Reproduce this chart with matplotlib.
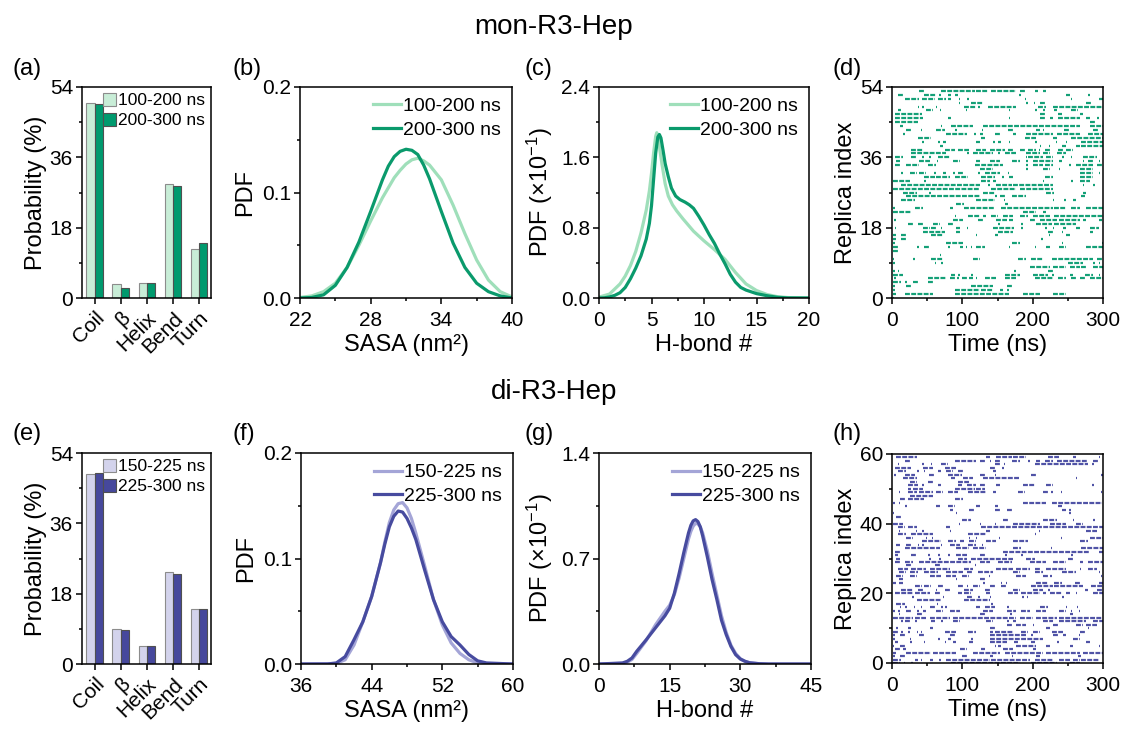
import numpy as np
import matplotlib
matplotlib.use('Agg')
import matplotlib.pyplot as plt
from matplotlib.ticker import MultipleLocator

plt.rcParams['font.family'] = ['Liberation Sans', 'DejaVu Sans']
plt.rcParams['mathtext.fontset'] = 'custom'
plt.rcParams['mathtext.rm'] = 'Liberation Sans'
plt.rcParams['mathtext.it'] = 'Liberation Sans:italic'
plt.rcParams['axes.linewidth'] = 1.1

# secondary structure content (%)
ss_labels = ['Coil', 'β', 'Helix', 'Bend', 'Turn']
mon_ss_early = [49.9, 3.6, 3.9, 29.3, 12.5]
mon_ss_late = [49.7, 2.6, 3.9, 28.7, 14.0]
di_ss_early = [48.6, 9.0, 4.6, 23.5, 14.2]
di_ss_late = [49.0, 8.7, 4.6, 23.0, 14.2]

# SASA distributions
mon_sasa_early_x = [22, 23, 24, 25, 26, 27, 28, 29, 30, 30.5, 31, 31.5, 32, 32.5, 33, 34, 35, 36, 37, 38, 39, 40]
mon_sasa_early_y = [0.0005, 0.002, 0.006, 0.014, 0.029, 0.050, 0.073, 0.095, 0.114, 0.121, 0.127, 0.131, 0.1325, 0.130, 0.126, 0.112, 0.088, 0.061, 0.036, 0.017, 0.006, 0.001]
mon_sasa_late_x = [22, 23, 24, 25, 26, 27, 28, 29, 29.5, 30, 30.5, 31, 31.5, 32, 32.5, 33, 34, 35, 36, 37, 38, 39, 40]
mon_sasa_late_y = [0.0, 0.0005, 0.003, 0.012, 0.029, 0.053, 0.082, 0.112, 0.125, 0.134, 0.139, 0.141, 0.140, 0.136, 0.126, 0.113, 0.082, 0.052, 0.029, 0.014, 0.006, 0.002, 0.0]

di_sasa_early_x = [36, 40, 41, 42, 43, 44, 45, 45.5, 46, 46.5, 47, 47.5, 48, 48.5, 49, 50, 51, 52, 53, 54, 55, 56, 57, 60]
di_sasa_early_y = [0.0, 0.0005, 0.004, 0.018, 0.040, 0.064, 0.096, 0.116, 0.134, 0.146, 0.152, 0.153, 0.148, 0.138, 0.124, 0.093, 0.061, 0.037, 0.020, 0.010, 0.004, 0.001, 0.0, 0.0]
di_sasa_late_x = [36, 39, 40, 41, 42, 43, 44, 45, 45.5, 46, 46.5, 47, 47.5, 48, 48.5, 49, 50, 51, 52, 53, 54, 55, 56, 57, 60]
di_sasa_late_y = [0.0, 0.0, 0.001, 0.007, 0.023, 0.040, 0.064, 0.096, 0.114, 0.130, 0.140, 0.145, 0.144, 0.138, 0.129, 0.118, 0.089, 0.061, 0.040, 0.026, 0.018, 0.009, 0.003, 0.001, 0.0]

# H-bond distributions (x10^-1)
mon_hb_early_x = [0, 1, 2, 2.5, 3, 3.5, 4, 4.5, 4.8, 5.0, 5.2, 5.4, 5.5, 5.65, 5.8, 6.0, 6.3, 6.6, 7.0, 7.4, 8.0, 8.5, 9, 10, 11, 12, 13, 14, 15, 16, 17, 18, 20]
mon_hb_early_y = [0.01, 0.045, 0.16, 0.25, 0.37, 0.53, 0.74, 1.0, 1.22, 1.42, 1.65, 1.84, 1.88, 1.82, 1.68, 1.52, 1.30, 1.16, 1.06, 0.99, 0.90, 0.83, 0.76, 0.65, 0.55, 0.44, 0.29, 0.16, 0.085, 0.04, 0.015, 0.005, 0.0]
mon_hb_late_x = [0, 0.5, 1, 1.5, 2, 2.5, 3, 3.5, 4, 4.5, 4.8, 5.0, 5.2, 5.4, 5.6, 5.75, 5.9, 6.1, 6.3, 6.6, 6.9, 7.3, 7.7, 8.2, 8.6, 9.0, 9.5, 10, 10.5, 11, 11.5, 12, 12.5, 13, 13.5, 14, 15, 16, 17, 18, 20]
mon_hb_late_y = [0.0, 0.002, 0.012, 0.03, 0.06, 0.12, 0.22, 0.34, 0.48, 0.67, 0.85, 1.05, 1.35, 1.65, 1.83, 1.86, 1.82, 1.68, 1.53, 1.38, 1.25, 1.16, 1.12, 1.09, 1.06, 1.02, 0.93, 0.83, 0.72, 0.62, 0.50, 0.39, 0.27, 0.18, 0.12, 0.09, 0.05, 0.026, 0.008, 0.001, 0.0]

di_hb_early_x = [0, 5, 6, 7, 8, 10, 12, 14, 15, 16, 17, 18, 19, 19.5, 20, 20.5, 21, 21.5, 22, 23, 24, 25, 26, 27, 28, 29, 30, 31, 32, 34, 36, 45]
di_hb_early_y = [0.0, 0.004, 0.012, 0.03, 0.07, 0.155, 0.26, 0.35, 0.39, 0.46, 0.57, 0.70, 0.83, 0.88, 0.915, 0.933, 0.93, 0.91, 0.87, 0.75, 0.60, 0.46, 0.32, 0.21, 0.125, 0.07, 0.035, 0.017, 0.008, 0.002, 0.0, 0.0]
di_hb_late_x = [0, 5, 6, 7, 8, 10, 12, 14, 15, 16, 17, 18, 19, 19.5, 20, 20.5, 21, 21.5, 22, 23, 24, 25, 26, 27, 28, 29, 30, 31, 32, 34, 36, 45]
di_hb_late_y = [0.0, 0.007, 0.018, 0.04, 0.084, 0.16, 0.24, 0.32, 0.37, 0.47, 0.60, 0.74, 0.87, 0.92, 0.95, 0.958, 0.945, 0.91, 0.85, 0.71, 0.56, 0.43, 0.29, 0.195, 0.117, 0.062, 0.033, 0.018, 0.008, 0.002, 0.0, 0.0]

# replica residence segments (start, end) in ns, listed from the top row down
mon_replica = [
    [(39, 46), (70, 118), (120, 136), (141, 177), (182, 191), (203, 208), (215, 219)],
    [(9, 16), (46, 63), (67, 69), (80, 84), (89, 94), (181, 183), (248, 253), (279, 281)],
    [(18, 39), (42, 61), (65, 77), (80, 84), (95, 97), (107, 109), (189, 191), (254, 256), (295, 300)],
    [(95, 97), (113, 129), (191, 193), (202, 204), (210, 219), (276, 283)],
    [(37, 39), (43, 45), (62, 64), (103, 120), (122, 125), (136, 177), (208, 219), (229, 300)],
    [(9, 13), (49, 58), (68, 70), (105, 107), (166, 168), (204, 206), (215, 217), (231, 234), (255, 264)],
    [(4, 42), (210, 219), (236, 241), (267, 272)],
    [(4, 44), (80, 84), (166, 168), (210, 219), (224, 229), (236, 267), (276, 281), (292, 294)],
    [(4, 37), (281, 288)],
    [(11, 16), (69, 71), (84, 115), (129, 267), (281, 300)],
    [(20, 27), (41, 43), (63, 75), (90, 92), (128, 130), (165, 174), (205, 210), (214, 216), (245, 253), (286, 295)],
    [(16, 18), (77, 106), (117, 119), (125, 129), (146, 153), (172, 177), (191, 229), (234, 267), (279, 300)],
    [(37, 56), (127, 132), (189, 205), (229, 234), (255, 300)],
    [(43, 45), (65, 68), (73, 77), (120, 125), (144, 146), (151, 155), (166, 168), (204, 206), (233, 235), (247, 249), (269, 300)],
    [(68, 73), (210, 212), (223, 225), (241, 248), (262, 267), (269, 300)],
    [(27, 44), (75, 89), (94, 110), (120, 134), (139, 160), (165, 174), (182, 191), (193, 205), (209, 211), (217, 224), (236, 243), (248, 257)],
    [(27, 77), (106, 110), (115, 144), (151, 153), (160, 177), (191, 210), (215, 224), (234, 248)],
    [(4, 16), (27, 35), (43, 45), (53, 55), (65, 82), (190, 192), (193, 215), (219, 229), (241, 245), (254, 256), (272, 291)],
    [(6, 11), (39, 54), (64, 66), (87, 96), (120, 125), (139, 153), (170, 182), (191, 193), (200, 229), (238, 241), (271, 273), (279, 286), (294, 296)],
    [(4, 13), (20, 39), (51, 63), (118, 158), (191, 193), (200, 215), (217, 229), (252, 254), (262, 286), (291, 300)],
    [(125, 144), (191, 193), (215, 224), (237, 239), (267, 286)],
    [(13, 16), (25, 35), (39, 49), (60, 62), (73, 77), (87, 89), (94, 103), (122, 125), (132, 153), (165, 167), (267, 286), (294, 296)],
    [(46, 61), (63, 82), (89, 108), (127, 146), (157, 159), (167, 172), (217, 229), (267, 286)],
    [(1, 25), (46, 49), (127, 139), (144, 148), (214, 216), (255, 257), (267, 281)],
    [(13, 125), (136, 139), (148, 170), (172, 229), (271, 273), (286, 288)],
    [(1, 125), (141, 177), (182, 229)],
    [(16, 35), (53, 55), (129, 146), (219, 231), (272, 276)],
    [(20, 125), (147, 149), (153, 160), (170, 191), (269, 274)],
    [(13, 32), (120, 146), (159, 161), (229, 231), (245, 248), (257, 262)],
    [(91, 103), (160, 165)],
    [(1, 4), (32, 44), (82, 87), (103, 146), (155, 229), (231, 248), (255, 267), (276, 300)],
    [(1, 27), (186, 205), (215, 219)],
    [(89, 91), (108, 125), (129, 134), (141, 151), (158, 172), (182, 193), (200, 224), (231, 300)],
    [(3, 5), (87, 101), (122, 129), (148, 163), (167, 172), (196, 205), (210, 234), (238, 267), (272, 276), (295, 298)],
    [(23, 30), (37, 46), (58, 68), (80, 87), (151, 153), (184, 186), (205, 227), (231, 262)],
    [(4, 6), (44, 54), (56, 63), (69, 71), (91, 96), (106, 108), (144, 174), (184, 186), (218, 220), (229, 231), (243, 248), (262, 267), (281, 295)],
    [(44, 75), (91, 96), (151, 172), (222, 229), (241, 243), (281, 286)],
    [(1, 6), (13, 20), (56, 73), (119, 121), (146, 151), (223, 225), (248, 253)],
    [(1, 6), (13, 20), (212, 215)],
    [(1, 4), (77, 101), (170, 182), (241, 243), (298, 300)],
    [(1, 9), (35, 39), (46, 54), (80, 82), (96, 101), (105, 107), (112, 114), (120, 132), (166, 168), (203, 205), (219, 224), (238, 248), (276, 300)],
    [(1, 9)],
    [(68, 70)],
    [(1, 3), (30, 32), (56, 73), (115, 125), (179, 191), (198, 215), (227, 286), (291, 300)],
    [(1, 4), (61, 63), (70, 73), (250, 272), (286, 288), (294, 296)],
    [(196, 224), (229, 248), (253, 267), (269, 276), (286, 300)],
    [(1, 4), (8, 10), (174, 177), (222, 231)],
    [(1, 16), (84, 89), (94, 96), (113, 115), (160, 182), (200, 222), (227, 231), (253, 257), (274, 286), (294, 296)],
    [(3, 5), (51, 77), (82, 89), (93, 95), (99, 106), (110, 115), (119, 121), (132, 148), (160, 177), (203, 229), (236, 248), (255, 262), (267, 276), (281, 300)],
    [(1, 13), (19, 21), (30, 39), (51, 58)],
    [(1, 4), (20, 27), (113, 144), (163, 172)],
    [(1, 4), (89, 125), (127, 144), (153, 158), (163, 167)],
    [(1, 6), (18, 58), (89, 167), (186, 210), (229, 248)],
    [(1, 3)],
]

di_replica = [
    [(6, 35), (134, 139), (148, 170), (172, 191), (222, 238), (257, 262), (294, 296)],
    [(18, 27), (89, 120), (125, 132), (139, 141), (146, 153), (170, 182), (193, 196), (205, 210), (217, 229), (234, 279), (286, 295)],
    [(8, 10), (42, 46), (55, 57), (70, 80), (146, 153), (159, 161), (203, 279), (285, 287)],
    [(4, 27), (44, 58), (75, 91), (139, 146), (157, 159)],
    [(8, 20), (35, 39), (45, 47), (65, 70), (77, 87), (94, 101), (144, 148)],
    [(3, 5), (18, 32), (53, 61), (80, 99), (125, 134), (146, 148), (198, 205), (297, 300)],
    [(16, 35), (84, 89), (101, 115), (129, 182), (261, 263)],
    [(25, 35), (51, 58), (94, 110)],
    [(23, 37), (43, 45), (65, 70), (94, 99), (106, 120), (125, 134), (148, 153), (186, 203), (219, 229), (285, 287)],
    [(23, 27), (30, 44), (89, 118), (120, 132)],
    [(10, 12), (23, 35), (39, 58), (63, 73), (80, 94), (108, 134), (144, 148), (179, 189), (214, 222), (226, 229), (240, 242), (297, 299)],
    [(25, 58)],
    [(11, 18), (23, 46), (89, 101)],
    [(1, 4), (10, 12), (186, 219), (227, 298)],
    [(19, 21), (63, 68), (80, 89), (120, 125), (146, 151), (236, 241)],
    [(82, 87), (110, 118), (146, 155), (163, 172), (241, 248), (252, 254)],
    [(1, 3), (91, 93), (252, 254)],
    [(6, 13)],
    [(99, 113), (158, 167), (214, 234), (257, 259), (286, 288)],
    [(1, 16), (95, 97), (125, 127), (146, 148), (172, 210), (224, 248), (262, 272)],
    [(8, 18), (23, 35), (77, 82), (127, 300)],
    [(10, 12), (34, 36), (43, 45), (82, 84), (134, 139), (209, 211), (276, 291)],
    [(8, 20), (27, 58), (108, 134), (203, 205)],
    [(20, 30), (48, 50), (57, 59), (109, 111), (119, 121), (152, 154), (240, 242), (281, 300)],
    [(42, 70), (80, 91), (96, 103), (110, 120), (134, 148), (172, 193), (267, 279)],
    [(6, 11), (20, 27), (37, 39), (43, 45), (69, 71), (82, 96), (108, 120), (128, 130)],
    [(18, 68), (91, 110), (115, 134), (172, 184), (226, 228), (269, 300)],
    [(4, 11), (158, 281), (295, 300)],
    [(4, 9), (27, 35), (51, 54), (65, 68), (80, 82), (91, 106), (125, 134), (160, 163), (184, 186), (255, 257)],
    [(6, 11), (53, 55), (67, 69), (94, 106), (113, 172), (191, 203), (250, 257)],
    [(4, 11), (18, 30), (39, 113), (125, 139), (151, 170), (196, 219), (229, 248), (267, 272), (279, 300)],
    [(20, 27), (61, 68), (118, 120)],
    [(8, 23), (27, 49), (54, 82), (103, 115), (148, 172), (177, 196), (203, 210), (219, 248), (267, 269), (279, 291)],
    [(10, 20), (25, 37), (46, 65), (77, 101), (106, 115), (122, 144), (172, 182), (203, 215), (241, 262), (294, 296)],
    [(6, 16), (25, 35), (54, 70), (77, 91), (99, 110), (138, 140), (177, 191), (214, 222), (224, 227), (297, 299)],
    [(10, 16), (91, 93), (125, 132)],
    [(1, 6), (10, 16), (129, 132), (155, 157), (162, 164), (205, 222), (231, 241), (260, 267), (294, 300)],
    [(32, 42), (46, 56), (65, 73), (94, 101), (106, 108), (115, 125), (139, 148), (155, 163), (198, 229), (231, 272), (283, 300)],
    [(13, 30), (37, 46), (62, 64), (75, 82), (103, 115), (132, 139), (172, 182), (200, 215), (222, 224), (274, 279), (291, 300)],
    [(4, 30), (32, 54), (61, 68), (94, 99), (103, 113), (134, 139), (165, 179), (184, 210), (215, 219), (224, 241), (248, 253), (261, 263), (286, 300)],
    [(29, 31), (72, 74), (106, 115), (122, 125), (139, 141), (185, 187), (192, 194), (242, 244)],
    [(35, 70), (103, 139)],
    [(6, 18), (64, 66), (141, 144)],
    [(11, 13), (19, 21), (31, 33), (41, 43), (54, 63), (70, 73), (76, 78), (120, 125), (132, 146), (164, 166), (210, 222), (247, 249), (263, 265)],
    [(1, 4), (8, 11), (20, 27), (35, 39), (44, 49), (63, 73), (82, 96), (129, 144), (163, 177), (184, 196), (205, 219), (238, 248), (254, 256), (266, 268)],
    [(10, 12), (35, 42), (125, 134), (168, 170), (253, 257)],
    [(1, 30), (32, 49), (54, 82), (87, 177), (182, 200), (205, 234), (238, 298)],
    [(13, 16), (18, 25), (32, 35), (56, 61), (70, 73), (87, 96), (134, 144), (163, 167), (172, 177), (215, 229), (238, 276), (286, 300)],
    [(163, 170), (177, 191), (200, 202), (229, 238), (262, 272), (276, 291)],
    [(6, 8), (23, 27), (54, 58), (139, 146), (219, 224), (278, 280)],
    [(1, 9), (13, 16), (23, 25), (35, 37), (41, 43), (75, 91), (108, 120), (139, 144), (146, 172), (184, 193), (200, 210), (227, 243), (267, 276)],
    [(1, 4), (11, 20), (39, 46), (82, 89), (139, 191), (198, 200), (229, 236), (243, 248), (266, 268)],
    [(1, 4), (25, 27), (65, 68), (80, 84), (113, 115), (139, 215), (257, 267)],
    [(4, 9), (26, 28), (45, 47), (75, 77), (87, 91), (110, 115), (139, 163), (174, 179), (198, 203), (234, 238), (276, 281)],
    [(1, 3), (11, 18), (146, 148), (151, 155), (177, 205), (219, 224), (253, 257), (294, 296)],
    [(4, 13), (16, 20), (96, 106), (127, 132), (158, 172), (200, 205)],
    [(1, 6), (20, 56), (58, 91), (115, 153), (160, 215), (219, 267), (272, 300)],
    [(1, 4), (11, 18), (99, 106), (139, 144), (170, 172), (205, 210), (264, 269)],
    [(1, 13), (32, 37), (41, 43), (54, 58), (67, 69), (77, 139), (141, 196), (203, 229), (238, 253), (257, 267), (269, 295)],
    [(1, 11), (17, 19), (27, 30), (84, 153), (155, 182), (198, 234), (253, 267)],
]

green_light_bar, green_dark_bar = '#c8edd7', '#009a6e'
green_light_line, green_dark_line = '#9fdfba', '#0a9a6c'
blue_light_bar, blue_dark_bar = '#d3d3ec', '#46489c'
blue_light_line, blue_dark_line = '#a4a5d7', '#474b9f'

TICK = 15
LABEL = 17

W, H = 1123, 729
fig = plt.figure(figsize=(W / 100, H / 100), dpi=100)


def make_ax(left, right, top, bottom):
    return fig.add_axes([left / W, 1 - bottom / H, (right - left) / W, (bottom - top) / H])


def style(ax, xpad=5):
    ax.tick_params(which='both', direction='out', labelsize=TICK, width=1.1)
    ax.tick_params(which='major', length=4.5)
    ax.tick_params(which='minor', length=2.5)
    ax.tick_params(axis='y', pad=2)
    ax.tick_params(axis='x', pad=xpad)


def bar_panel(ax, early, late, labels, c_light, c_dark):
    x = np.arange(len(ss_labels))
    w = 0.32
    ax.bar(x - w / 2, early, w, color=c_light, edgecolor='#8c8c8c', lw=0.8, label=labels[0])
    ax.bar(x + w / 2, late, w, color=c_dark, edgecolor='#505050', lw=0.8, label=labels[1])
    ax.set_xlim(-0.49, 4.46)
    ax.set_ylim(0, 54)
    ax.set_xticks(x)
    ax.set_xticklabels(ss_labels, rotation=45, ha='right', rotation_mode='anchor')
    ax.set_yticks([0, 18, 36, 54])
    ax.yaxis.set_minor_locator(MultipleLocator(9))
    ax.set_ylabel('Probability (%)', fontsize=LABEL, labelpad=2)
    style(ax, xpad=3)
    ax.legend(loc='upper right', frameon=False, fontsize=12.5, handlelength=0.75, handleheight=0.75,
              handletextpad=0.1, labelspacing=0.25, borderaxespad=0.15, borderpad=0.2)


def pdf_panel(ax, curves, labels, colors, xlim, xstep, ylim, ystep, xlabel, ylabel):
    for (xs, ys), lab, c in zip(curves, labels, colors):
        ax.plot(xs, ys, color=c, lw=2.3, label=lab, solid_joinstyle='round')
    ax.set_xlim(*xlim)
    ax.set_ylim(*ylim)
    ax.set_xticks(np.arange(xlim[0], xlim[1] + 1e-9, xstep))
    ax.set_xticks(np.arange(xlim[0] + xstep / 2, xlim[1], xstep), minor=True)
    ax.yaxis.set_major_locator(MultipleLocator(ystep))
    ax.yaxis.set_minor_locator(MultipleLocator(ystep / 2))
    ax.set_xlabel(xlabel, fontsize=LABEL, labelpad=3)
    ax.set_ylabel(ylabel, fontsize=LABEL, labelpad=4)
    style(ax)
    ax.legend(loc='upper right', frameon=False, fontsize=14, handlelength=1.4,
              handletextpad=0.15, labelspacing=0.3, borderaxespad=0.15)


def replica_panel(ax, rows, color, ymax, ymajor):
    n = len(rows)
    for i, segs in enumerate(rows):
        y = n - 1 - i
        for t0, t1 in segs:
            ax.hlines(y, t0, t1, color=color, lw=1.6, linestyles=(0, (2.2, 0.6)))
    ax.set_xlim(0, 300)
    ax.set_ylim(0, ymax)
    ax.xaxis.set_major_locator(MultipleLocator(100))
    ax.xaxis.set_minor_locator(MultipleLocator(50))
    ax.yaxis.set_major_locator(MultipleLocator(ymajor))
    ax.yaxis.set_minor_locator(MultipleLocator(ymajor / 2))
    ax.set_xlabel('Time (ns)', fontsize=LABEL, labelpad=3)
    ax.set_ylabel('Replica index', fontsize=LABEL, labelpad=2)
    style(ax)


# top row: mon-R3-Hep
ax_a = make_ax(82, 211, 87, 298)
bar_panel(ax_a, mon_ss_early, mon_ss_late, ['100-200 ns', '200-300 ns'], green_light_bar, green_dark_bar)

ax_b = make_ax(300, 512, 87, 298)
pdf_panel(ax_b, [(mon_sasa_early_x, mon_sasa_early_y), (mon_sasa_late_x, mon_sasa_late_y)],
          ['100-200 ns', '200-300 ns'], [green_light_line, green_dark_line],
          (22, 40), 6, (0, 0.2), 0.1, 'SASA (nm²)', 'PDF')

ax_c = make_ax(599, 809, 87, 298)
pdf_panel(ax_c, [(mon_hb_early_x, mon_hb_early_y), (mon_hb_late_x, mon_hb_late_y)],
          ['100-200 ns', '200-300 ns'], [green_light_line, green_dark_line],
          (0, 20), 5, (0, 2.4), 0.8, 'H-bond #', 'PDF (×10$^{-1}$)')

ax_d = make_ax(892, 1103, 87, 298)
replica_panel(ax_d, mon_replica, '#14a077', 54, 18)

# bottom row: di-R3-Hep
ax_e = make_ax(82, 211, 453, 664)
bar_panel(ax_e, di_ss_early, di_ss_late, ['150-225 ns', '225-300 ns'], blue_light_bar, blue_dark_bar)

ax_f = make_ax(301, 513, 453, 664)
pdf_panel(ax_f, [(di_sasa_early_x, di_sasa_early_y), (di_sasa_late_x, di_sasa_late_y)],
          ['150-225 ns', '225-300 ns'], [blue_light_line, blue_dark_line],
          (36, 60), 8, (0, 0.2), 0.1, 'SASA (nm²)', 'PDF')

ax_g = make_ax(599, 811, 453, 664)
pdf_panel(ax_g, [(di_hb_early_x, di_hb_early_y), (di_hb_late_x, di_hb_late_y)],
          ['150-225 ns', '225-300 ns'], [blue_light_line, blue_dark_line],
          (0, 45), 15, (0, 1.4), 0.7, 'H-bond #', 'PDF (×10$^{-1}$)')

ax_h = make_ax(892, 1103, 454, 663)
replica_panel(ax_h, di_replica, '#5053a6', 60, 20)

fig.text(554 / W, 1 - 27 / H, 'mon-R3-Hep', fontsize=20, ha='center', va='center')
fig.text(554 / W, 1 - 392 / H, 'di-R3-Hep', fontsize=20, ha='center', va='center')

for lab, x, y in [('(a)', 12, 69), ('(b)', 232, 69), ('(c)', 524, 69), ('(d)', 832, 69),
                  ('(e)', 12, 434), ('(f)', 232, 434), ('(g)', 524, 434), ('(h)', 832, 434)]:
    fig.text(x / W, 1 - y / H, lab, fontsize=17, ha='left', va='center')

fig.savefig('out.png', dpi=100)
